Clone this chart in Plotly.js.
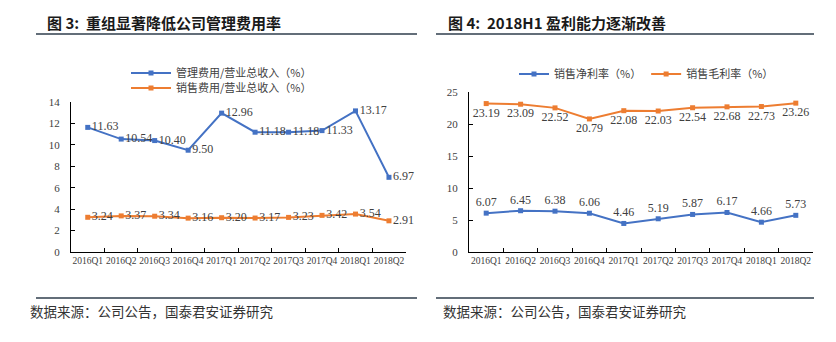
<!DOCTYPE html>
<html>
<head>
<meta charset="utf-8">
<script src="https://cdn.plot.ly/plotly-3.0.1.min.js"></script>
<style>
html,body{margin:0;padding:0;background:#fff;}
#chart{width:836px;height:342px;}
</style>
</head>
<body>
<div id="chart"></div>
<script>
// ---- data ----
const quarters = ["2016Q1","2016Q2","2016Q3","2016Q4","2017Q1","2017Q2","2017Q3","2017Q4","2018Q1","2018Q2"];
const mgmtRatio = [11.63, 10.54, 10.40, 9.50, 12.96, 11.18, 11.18, 11.33, 13.17, 6.97];
const salesExpRatio = [3.24, 3.37, 3.34, 3.16, 3.20, 3.17, 3.23, 3.42, 3.54, 2.91];
const netMargin = [6.07, 6.45, 6.38, 6.06, 4.46, 5.19, 5.87, 6.17, 4.66, 5.73];
const grossMargin = [23.19, 23.09, 22.52, 20.79, 22.08, 22.03, 22.54, 22.68, 22.73, 23.26];
const seriesNames = ["管理费用/营业总收入（%）", "销售费用/营业总收入（%）", "销售净利率（%）", "销售毛利率（%）"];
const titles = ["图 3:  重组显著降低公司管理费用率", "图 4:  2018H1 盈利能力逐渐改善"];
const sourceText = "数据来源：公司公告，国泰君安证券研究";

const W = 836, H = 342;
const px = v => v / W;
const py = v => 1 - v / H;
const BLUE = "#4472C4", ORANGE = "#ED7D31";
const SERIF = "Liberation Serif, Times New Roman, serif";
const NUMF = {family: SERIF, size: 12, color: "#404040"};
const CJK = "Noto Sans CJK SC, sans-serif";
const fmt = a => a.map(v => v.toFixed(2));

function trace(y, name, color, xa, ya, pos, legend) {
  return {
    x: quarters, y: y, name: name, type: "scatter", mode: "lines+markers+text",
    xaxis: xa, yaxis: ya, legend: legend,
    line: {color: color, width: 2},
    marker: {color: color, size: 5, symbol: "square"},
    text: fmt(y), textposition: pos, textfont: NUMF, cliponaxis: false,
    hoverinfo: "skip"
  };
}

const data = [
  trace(mgmtRatio, seriesNames[0], BLUE, "x", "y", "middle right", "legend"),
  trace(salesExpRatio, seriesNames[1], ORANGE, "x", "y", "middle right", "legend3"),
  trace(netMargin, seriesNames[2], BLUE, "x2", "y2", "top center", "legend2"),
  trace(grossMargin, seriesNames[3], ORANGE, "x2", "y2", "bottom center", "legend2")
];

const xCommon = {
  type: "category", range: [-0.5, 9.5], showline: true, linecolor: "#000", linewidth: 1,
  ticks: "inside", ticklen: 4, tickcolor: "#000", tickson: "boundaries", tickangle: 0,
  showgrid: false, zeroline: false, fixedrange: true, automargin: false,
  tickfont: {family: SERIF, size: 9.5, color: "#404040"}
};
const yCommon = {
  showline: true, linecolor: "#000", linewidth: 1, ticks: "inside", ticklen: 4, tickcolor: "#000",
  showgrid: false, zeroline: false, fixedrange: true, ticklabelstandoff: 8, automargin: false,
  tickfont: {family: SERIF, size: 11, color: "#404040"}
};

const legBase = {
  xanchor: "left", yanchor: "middle", bgcolor: "rgba(0,0,0,0)",
  font: {family: CJK, size: 11, color: "#404040"}
};

const layout = {
  width: W, height: H, margin: {l: 0, r: 0, t: 0, b: 0},
  paper_bgcolor: "#fff", plot_bgcolor: "rgba(0,0,0,0)",
  showlegend: true,
  xaxis: Object.assign({}, xCommon, {domain: [px(71), px(405.7)], anchor: "y"}),
  yaxis: Object.assign({}, yCommon, {domain: [py(252), py(102)], range: [0, 14], dtick: 2, anchor: "x"}),
  xaxis2: Object.assign({}, xCommon, {domain: [px(469), px(813)], anchor: "y2"}),
  yaxis2: Object.assign({}, yCommon, {domain: [py(252), py(92)], range: [0, 25], dtick: 5, anchor: "x2"}),
  legend: Object.assign({}, legBase, {x: px(126), y: py(73), orientation: "v", itemwidth: 40}),
  legend3: Object.assign({}, legBase, {x: px(126), y: py(88), orientation: "v", itemwidth: 40}),
  legend2: Object.assign({}, legBase, {x: px(514), y: py(74), orientation: "h"}),
  shapes: [
    {type: "line", xref: "paper", yref: "paper", x0: px(36), x1: px(417), y0: py(34), y1: py(34), line: {color: "#2F3E4C", width: 1.5}},
    {type: "line", xref: "paper", yref: "paper", x0: px(436), x1: px(814), y0: py(34), y1: py(34), line: {color: "#2F3E4C", width: 1.5}},
    {type: "line", xref: "paper", yref: "paper", x0: px(36), x1: px(417), y0: py(298), y1: py(298), line: {color: "#2F3E4C", width: 1.5}},
    {type: "line", xref: "paper", yref: "paper", x0: px(436), x1: px(814), y0: py(298), y1: py(298), line: {color: "#2F3E4C", width: 1.5}}
  ],
  annotations: [
    {text: titles[0], xref: "paper", yref: "paper", x: px(45), y: py(22), xanchor: "left", yanchor: "middle", showarrow: false,
     font: {family: CJK, size: 15, color: "#1a1a1a", weight: "bold"}},
    {text: titles[1], xref: "paper", yref: "paper", x: px(446), y: py(22), xanchor: "left", yanchor: "middle", showarrow: false,
     font: {family: CJK, size: 15, color: "#1a1a1a", weight: "bold"}},
    {text: sourceText, xref: "paper", yref: "paper", x: px(28), y: py(311), xanchor: "left", yanchor: "middle", showarrow: false,
     font: {family: CJK, size: 13.5, color: "#333"}},
    {text: sourceText, xref: "paper", yref: "paper", x: px(441), y: py(311), xanchor: "left", yanchor: "middle", showarrow: false,
     font: {family: CJK, size: 13.5, color: "#333"}}
  ]
};

Plotly.newPlot("chart", data, layout, {displayModeBar: false, staticPlot: true});
</script>
</body>
</html>
